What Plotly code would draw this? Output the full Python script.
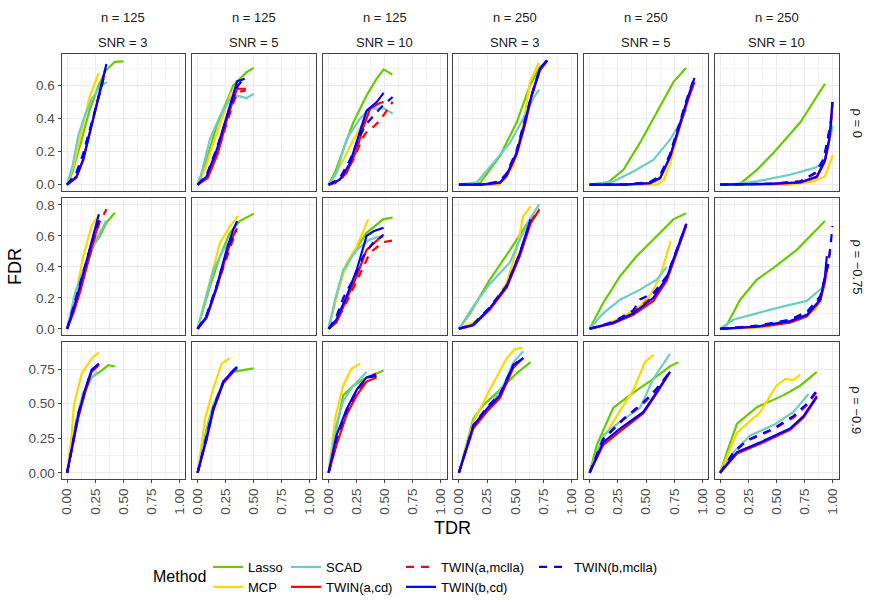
import plotly.graph_objects as go

# ---- data --------------------------------------------------------------
# each list holds 18 curves, panel order: row (rho) by row, n/SNR across
methods = ["Lasso", "MCP", "SCAD", "TWIN(a,cd)", "TWIN(a,mclla)", "TWIN(b,cd)", "TWIN(b,mclla)"]
n_labels = ["n = 125", "n = 125", "n = 125", "n = 250", "n = 250", "n = 250"]
snr_labels = ["SNR = 3", "SNR = 5", "SNR = 10", "SNR = 3", "SNR = 5", "SNR = 10"]
rho_labels = ["ρ = 0", "ρ = −0.75", "ρ = −0.9"]
x_ticks = [0, 0.25, 0.5, 0.75, 1.0]
y_ticks = [[0, 0.2, 0.4, 0.6], [0, 0.2, 0.4, 0.6, 0.8], [0, 0.25, 0.5, 0.75]]

lasso_tdr = [
    [0, 0.05, 0.12, 0.2, 0.28, 0.345, 0.425, 0.5],
    [0, 0.08, 0.17, 0.317, 0.436, 0.5],
    [0, 0.06, 0.13, 0.22, 0.338, 0.427, 0.49, 0.568],
    [0, 0.1, 0.187, 0.365, 0.513, 0.631, 0.72, 0.778],
    [0, 0.15, 0.3, 0.447, 0.595, 0.743, 0.855],
    [0, 0.1, 0.178, 0.326, 0.474, 0.71, 0.93],
    [0, 0.085, 0.174, 0.232, 0.292, 0.351, 0.425],
    [0, 0.11, 0.2, 0.287, 0.376, 0.5],
    [0, 0.07, 0.13, 0.22, 0.338, 0.485, 0.57],
    [0, 0.098, 0.275, 0.455, 0.631, 0.64],
    [0, 0.12, 0.27, 0.418, 0.565, 0.743, 0.855],
    [0, 0.06, 0.178, 0.326, 0.474, 0.68, 0.93],
    [0, 0.04, 0.085, 0.144, 0.218, 0.292, 0.366, 0.425],
    [0, 0.08, 0.14, 0.23, 0.317, 0.5],
    [0, 0.07, 0.13, 0.22, 0.338, 0.49],
    [0, 0.128, 0.216, 0.365, 0.513, 0.637],
    [0, 0.063, 0.21, 0.388, 0.565, 0.713, 0.787],
    [0, 0.06, 0.15, 0.326, 0.56, 0.71, 0.858],
]
lasso_fdr = [
    [0, 0.08, 0.25, 0.45, 0.6, 0.69, 0.743, 0.745],
    [0, 0.15, 0.356, 0.6, 0.68, 0.706],
    [0, 0.08, 0.21, 0.376, 0.539, 0.64, 0.697, 0.665],
    [0, 0, 0.01, 0.173, 0.376, 0.6, 0.712, 0.742],
    [0, 0.006, 0.09, 0.254, 0.437, 0.62, 0.706],
    [0, 0, 0.006, 0.09, 0.193, 0.376, 0.61],
    [0, 0.188, 0.404, 0.534, 0.6, 0.686, 0.75],
    [0, 0.274, 0.47, 0.62, 0.696, 0.744],
    [0, 0.21, 0.36, 0.49, 0.62, 0.707, 0.718],
    [0, 0.1, 0.318, 0.51, 0.707, 0.72],
    [0, 0.167, 0.34, 0.47, 0.577, 0.707, 0.746],
    [0, 0.026, 0.188, 0.318, 0.394, 0.51, 0.696],
    [0, 0.2, 0.39, 0.58, 0.69, 0.73, 0.778, 0.77],
    [0, 0.32, 0.49, 0.66, 0.73, 0.755],
    [0, 0.32, 0.56, 0.63, 0.69, 0.74],
    [0, 0.39, 0.49, 0.6, 0.72, 0.8],
    [0, 0.2, 0.47, 0.58, 0.68, 0.77, 0.8],
    [0, 0.15, 0.355, 0.475, 0.56, 0.63, 0.73],
]

mcp_tdr = [
    [0, 0.06, 0.13, 0.2, 0.24, 0.28],
    [0, 0.07, 0.14, 0.2, 0.26, 0.3],
    [0, 0.06, 0.13, 0.22, 0.31, 0.36],
    [0, 0.2, 0.36, 0.483, 0.57, 0.631, 0.71],
    [0, 0.3, 0.6, 0.66, 0.72, 0.8, 0.86, 0.9],
    [0, 0.3, 0.62, 0.83, 0.93, 1.0],
    [0, 0.085, 0.144, 0.218, 0.277],
    [0, 0.11, 0.2, 0.287, 0.36],
    [0, 0.07, 0.16, 0.25, 0.353],
    [0, 0.128, 0.275, 0.424, 0.513, 0.572, 0.637],
    [0, 0.15, 0.3, 0.45, 0.55, 0.63, 0.72],
    [0, 0.4, 0.7, 0.85, 0.9],
    [0, 0.04, 0.061, 0.13, 0.218, 0.283],
    [0, 0.066, 0.14, 0.214, 0.287],
    [0, 0.057, 0.13, 0.205, 0.28],
    [0, 0.128, 0.275, 0.424, 0.498, 0.566],
    [0, 0.12, 0.24, 0.388, 0.49, 0.57],
    [0, 0.15, 0.356, 0.5, 0.58, 0.65, 0.71],
]
mcp_fdr = [
    [0, 0.12, 0.33, 0.53, 0.6, 0.675],
    [0, 0.1, 0.25, 0.37, 0.48, 0.56],
    [0, 0.06, 0.15, 0.27, 0.376, 0.43],
    [0, 0, 0, 0.11, 0.36, 0.62, 0.738],
    [0, 0, 0, 0.03, 0.14, 0.35, 0.5, 0.58],
    [0, 0, 0, 0.02, 0.05, 0.18],
    [0, 0.25, 0.47, 0.664, 0.73],
    [0, 0.3, 0.557, 0.66, 0.73],
    [0, 0.21, 0.426, 0.53, 0.707],
    [0, 0.04, 0.12, 0.297, 0.51, 0.729, 0.79],
    [0, 0.03, 0.08, 0.15, 0.23, 0.35, 0.567],
    [0, 0.01, 0.06, 0.13, 0.2],
    [0, 0.27, 0.488, 0.718, 0.827, 0.87],
    [0, 0.39, 0.61, 0.79, 0.83],
    [0, 0.39, 0.63, 0.755, 0.79],
    [0, 0.367, 0.6, 0.827, 0.895, 0.905],
    [0, 0.25, 0.41, 0.6, 0.8, 0.855],
    [0, 0.29, 0.44, 0.63, 0.68, 0.67, 0.71],
]

scad_tdr = [
    [0, 0.05, 0.1, 0.16, 0.22, 0.3, 0.357],
    [0, 0.02, 0.11, 0.2, 0.287, 0.347, 0.436, 0.5],
    [0, 0.07, 0.16, 0.28, 0.37, 0.49, 0.57],
    [0, 0.158, 0.305, 0.455, 0.57, 0.66, 0.714],
    [0, 0.21, 0.388, 0.565, 0.716, 0.805, 0.86],
    [0, 0.1, 0.326, 0.62, 0.83, 0.92, 0.965, 1.0],
    [0, 0.07, 0.144, 0.232, 0.292, 0.35],
    [0, 0.08, 0.14, 0.23, 0.317, 0.35],
    [0, 0.057, 0.13, 0.25, 0.367, 0.48],
    [0, 0.128, 0.275, 0.455, 0.542, 0.631, 0.714],
    [0, 0.12, 0.27, 0.447, 0.595, 0.684],
    [0, 0.12, 0.326, 0.56, 0.77, 0.92],
    [0, 0.04, 0.09, 0.15, 0.22, 0.27],
    [0, 0.08, 0.14, 0.23, 0.3, 0.352],
    [0, 0.07, 0.13, 0.22, 0.338],
    [0, 0.128, 0.275, 0.395, 0.484, 0.572],
    [0, 0.12, 0.27, 0.447, 0.565, 0.713],
    [0, 0.12, 0.267, 0.474, 0.65, 0.784],
]
scad_fdr = [
    [0, 0.12, 0.3, 0.42, 0.52, 0.6, 0.62],
    [0, 0.03, 0.275, 0.417, 0.518, 0.539, 0.523, 0.55],
    [0, 0.07, 0.275, 0.4, 0.46, 0.462, 0.43],
    [0, 0.014, 0.13, 0.254, 0.397, 0.52, 0.575],
    [0, 0.02, 0.08, 0.15, 0.275, 0.376, 0.457],
    [0, 0.003, 0.02, 0.06, 0.1, 0.13, 0.254, 0.356],
    [0, 0.23, 0.38, 0.534, 0.62, 0.7],
    [0, 0.21, 0.38, 0.51, 0.6, 0.645],
    [0, 0.188, 0.38, 0.51, 0.577, 0.6],
    [0, 0.145, 0.29, 0.43, 0.577, 0.707, 0.805],
    [0, 0.1, 0.188, 0.253, 0.318, 0.4],
    [0, 0.06, 0.1, 0.145, 0.18, 0.275],
    [0, 0.19, 0.4, 0.58, 0.69, 0.73],
    [0, 0.3, 0.48, 0.66, 0.73, 0.76],
    [0, 0.35, 0.52, 0.63, 0.73],
    [0, 0.34, 0.49, 0.63, 0.8, 0.88],
    [0, 0.27, 0.37, 0.47, 0.68, 0.86],
    [0, 0.15, 0.27, 0.345, 0.44, 0.57],
]

twin_a_cd_tdr = [
    [0, 0.08, 0.14, 0.2, 0.26, 0.3, 0.33],
    [0, 0.09, 0.18, 0.26, 0.32, 0.352, 0.43],
    [0, 0.06, 0.16, 0.25, 0.31, 0.37, 0.456, 0.49],
    [0, 0.2, 0.365, 0.424, 0.513, 0.587, 0.645, 0.72, 0.785],
    [0, 0.3, 0.536, 0.625, 0.714, 0.803, 0.877, 0.93],
    [0, 0.474, 0.71, 0.858, 0.93, 0.966, 0.98, 0.995],
    [0, 0.06, 0.12, 0.18, 0.24, 0.29],
    [0, 0.08, 0.17, 0.258, 0.317, 0.35],
    [0, 0.07, 0.16, 0.25, 0.338, 0.4, 0.49],
    [0, 0.128, 0.275, 0.424, 0.542, 0.637, 0.714],
    [0, 0.21, 0.388, 0.565, 0.684, 0.773, 0.855],
    [0, 0.326, 0.62, 0.77, 0.888, 0.93, 0.95],
    [0, 0.04, 0.1, 0.16, 0.218, 0.283],
    [0, 0.08, 0.14, 0.23, 0.317, 0.352],
    [0, 0.07, 0.16, 0.25, 0.338, 0.427],
    [0, 0.128, 0.246, 0.365, 0.484, 0.572],
    [0, 0.12, 0.27, 0.477, 0.595, 0.713],
    [0, 0.15, 0.356, 0.62, 0.74, 0.858],
]
twin_a_cd_fdr = [
    [0, 0.04, 0.15, 0.31, 0.47, 0.58, 0.66],
    [0, 0.04, 0.19, 0.39, 0.52, 0.58, 0.58],
    [0, 0.01, 0.07, 0.21, 0.35, 0.46, 0.494, 0.5],
    [0, 0, 0.01, 0.05, 0.18, 0.36, 0.53, 0.69, 0.75],
    [0, 0, 0.01, 0.04, 0.165, 0.36, 0.52, 0.62],
    [0, 0.005, 0.013, 0.045, 0.14, 0.26, 0.34, 0.48],
    [0, 0.11, 0.25, 0.42, 0.58, 0.7],
    [0, 0.07, 0.26, 0.48, 0.6, 0.65],
    [0, 0.04, 0.19, 0.34, 0.51, 0.55, 0.61],
    [0, 0.022, 0.125, 0.265, 0.47, 0.68, 0.77],
    [0, 0.035, 0.09, 0.18, 0.31, 0.49, 0.66],
    [0, 0.012, 0.04, 0.08, 0.18, 0.3, 0.4],
    [0, 0.16, 0.4, 0.58, 0.73, 0.78],
    [0, 0.24, 0.45, 0.65, 0.73, 0.76],
    [0, 0.2, 0.42, 0.56, 0.66, 0.69],
    [0, 0.32, 0.44, 0.54, 0.76, 0.83],
    [0, 0.2, 0.3, 0.43, 0.575, 0.73],
    [0, 0.14, 0.21, 0.31, 0.4, 0.545],
]

twin_a_mclla_tdr = [
    [0, 0.08, 0.14, 0.2, 0.26, 0.3, 0.34],
    [0, 0.09, 0.18, 0.26, 0.32, 0.36, 0.43],
    [0, 0.12, 0.22, 0.3, 0.35, 0.4, 0.46, 0.52, 0.57],
    [0, 0.2, 0.36, 0.42, 0.51, 0.585, 0.645, 0.72, 0.785],
    [0, 0.3, 0.53, 0.62, 0.71, 0.8, 0.875, 0.93],
    [0, 0.474, 0.71, 0.85, 0.92, 0.96, 0.98, 0.995],
    [0, 0.06, 0.12, 0.18, 0.24, 0.29, 0.351],
    [0, 0.08, 0.17, 0.258, 0.317, 0.35],
    [0, 0.08, 0.18, 0.28, 0.367, 0.485, 0.57],
    [0, 0.128, 0.275, 0.424, 0.542, 0.637, 0.714],
    [0, 0.21, 0.388, 0.565, 0.684, 0.773, 0.855],
    [0, 0.326, 0.62, 0.77, 0.888, 0.93, 0.96, 0.98],
    [0, 0.04, 0.1, 0.16, 0.218, 0.283],
    [0, 0.08, 0.14, 0.23, 0.317, 0.352],
    [0, 0.07, 0.16, 0.25, 0.338, 0.427],
    [0, 0.128, 0.246, 0.365, 0.484, 0.572],
    [0, 0.12, 0.3, 0.477, 0.595, 0.713],
    [0, 0.12, 0.237, 0.474, 0.65, 0.77, 0.88],
]
twin_a_mclla_fdr = [
    [0, 0.06, 0.17, 0.32, 0.48, 0.59, 0.68],
    [0, 0.05, 0.2, 0.38, 0.5, 0.56, 0.57],
    [0, 0.04, 0.15, 0.28, 0.33, 0.35, 0.39, 0.45, 0.5],
    [0, 0, 0.015, 0.055, 0.185, 0.37, 0.535, 0.695, 0.75],
    [0, 0, 0.012, 0.045, 0.17, 0.37, 0.53, 0.63],
    [0, 0.006, 0.02, 0.07, 0.15, 0.28, 0.36, 0.49],
    [0, 0.13, 0.27, 0.43, 0.58, 0.69, 0.772],
    [0, 0.08, 0.27, 0.46, 0.58, 0.62],
    [0, 0.06, 0.2, 0.36, 0.49, 0.56, 0.57],
    [0, 0.025, 0.13, 0.27, 0.48, 0.69, 0.775],
    [0, 0.04, 0.11, 0.21, 0.33, 0.5, 0.67],
    [0, 0.015, 0.05, 0.1, 0.2, 0.32, 0.42, 0.54],
    [0, 0.17, 0.41, 0.59, 0.735, 0.785],
    [0, 0.25, 0.46, 0.655, 0.735, 0.765],
    [0, 0.22, 0.43, 0.58, 0.68, 0.72],
    [0, 0.33, 0.45, 0.55, 0.77, 0.835],
    [0, 0.24, 0.385, 0.5, 0.6, 0.73],
    [0, 0.145, 0.23, 0.315, 0.4, 0.49, 0.61],
]

twin_b_cd_tdr = [
    [0, 0.085, 0.144, 0.203, 0.262, 0.307, 0.35],
    [0, 0.08, 0.17, 0.258, 0.317, 0.352, 0.42],
    [0, 0.1, 0.19, 0.28, 0.338, 0.427, 0.49],
    [0, 0.2, 0.365, 0.424, 0.513, 0.587, 0.645, 0.72, 0.785],
    [0, 0.3, 0.536, 0.625, 0.714, 0.803, 0.877, 0.93],
    [0, 0.474, 0.71, 0.858, 0.93, 0.966, 0.98, 0.996],
    [0, 0.055, 0.114, 0.174, 0.232, 0.283],
    [0, 0.08, 0.17, 0.258, 0.317, 0.352],
    [0, 0.07, 0.16, 0.25, 0.338, 0.4, 0.49],
    [0, 0.128, 0.275, 0.424, 0.542, 0.637],
    [0, 0.21, 0.388, 0.565, 0.684, 0.773, 0.855],
    [0, 0.326, 0.62, 0.77, 0.888, 0.93, 0.947],
    [0, 0.04, 0.1, 0.16, 0.218, 0.283],
    [0, 0.08, 0.14, 0.23, 0.317, 0.352],
    [0, 0.07, 0.16, 0.25, 0.338, 0.427],
    [0, 0.128, 0.246, 0.365, 0.484, 0.572],
    [0, 0.12, 0.27, 0.477, 0.595, 0.713],
    [0, 0.15, 0.356, 0.62, 0.74, 0.858],
]
twin_b_cd_fdr = [
    [0, 0.05, 0.15, 0.315, 0.478, 0.62, 0.73],
    [0, 0.05, 0.21, 0.417, 0.54, 0.624, 0.64],
    [0, 0.03, 0.13, 0.315, 0.447, 0.498, 0.555],
    [0, 0, 0.014, 0.06, 0.193, 0.376, 0.539, 0.7, 0.752],
    [0, 0, 0.01, 0.04, 0.173, 0.376, 0.539, 0.645],
    [0, 0.006, 0.015, 0.05, 0.15, 0.27, 0.356, 0.5],
    [0, 0.123, 0.274, 0.448, 0.6, 0.74],
    [0, 0.08, 0.274, 0.51, 0.64, 0.696],
    [0, 0.06, 0.21, 0.38, 0.6, 0.63, 0.653],
    [0, 0.026, 0.134, 0.275, 0.49, 0.707],
    [0, 0.04, 0.1, 0.2, 0.33, 0.51, 0.675],
    [0, 0.015, 0.05, 0.09, 0.19, 0.34, 0.47],
    [0, 0.17, 0.42, 0.6, 0.745, 0.79],
    [0, 0.25, 0.465, 0.66, 0.74, 0.766],
    [0, 0.27, 0.46, 0.6, 0.69, 0.7],
    [0, 0.34, 0.46, 0.56, 0.78, 0.83],
    [0, 0.22, 0.32, 0.44, 0.585, 0.73],
    [0, 0.15, 0.22, 0.32, 0.41, 0.555],
]

twin_b_mclla_tdr = [
    [0, 0.08, 0.14, 0.2, 0.26, 0.31, 0.34],
    [0, 0.08, 0.17, 0.26, 0.32, 0.36, 0.42],
    [0, 0.1, 0.19, 0.28, 0.34, 0.4, 0.47, 0.57],
    [0, 0.2, 0.36, 0.42, 0.51, 0.585, 0.645, 0.72, 0.78],
    [0, 0.3, 0.53, 0.62, 0.71, 0.8, 0.875, 0.93],
    [0, 0.474, 0.71, 0.85, 0.92, 0.96, 0.98, 0.996],
    [0, 0.055, 0.114, 0.174, 0.232, 0.29],
    [0, 0.08, 0.17, 0.258, 0.317, 0.35],
    [0, 0.07, 0.13, 0.22, 0.31, 0.4, 0.485],
    [0, 0.128, 0.275, 0.424, 0.542, 0.637],
    [0, 0.21, 0.388, 0.447, 0.565, 0.684, 0.773, 0.86],
    [0, 0.326, 0.62, 0.77, 0.888, 0.93, 0.96, 0.98, 0.996],
    [0, 0.04, 0.1, 0.16, 0.218, 0.283],
    [0, 0.08, 0.14, 0.23, 0.317, 0.352],
    [0, 0.07, 0.16, 0.25, 0.338, 0.427],
    [0, 0.128, 0.246, 0.365, 0.484, 0.572],
    [0, 0.12, 0.3, 0.477, 0.595, 0.713],
    [0, 0.12, 0.237, 0.474, 0.65, 0.77, 0.88],
]
twin_b_mclla_fdr = [
    [0, 0.07, 0.18, 0.33, 0.48, 0.6, 0.7],
    [0, 0.06, 0.22, 0.41, 0.53, 0.6, 0.645],
    [0, 0.04, 0.15, 0.3, 0.37, 0.417, 0.47, 0.53],
    [0, 0, 0.02, 0.065, 0.2, 0.38, 0.54, 0.7, 0.75],
    [0, 0, 0.015, 0.05, 0.18, 0.38, 0.545, 0.65],
    [0, 0.007, 0.02, 0.075, 0.16, 0.29, 0.37, 0.5],
    [0, 0.14, 0.29, 0.45, 0.59, 0.72],
    [0, 0.09, 0.28, 0.49, 0.6, 0.63],
    [0, 0.08, 0.2, 0.32, 0.47, 0.56, 0.6],
    [0, 0.03, 0.14, 0.28, 0.49, 0.7],
    [0, 0.045, 0.12, 0.19, 0.23, 0.34, 0.51, 0.68],
    [0, 0.02, 0.06, 0.11, 0.21, 0.33, 0.42, 0.54, 0.664],
    [0, 0.18, 0.43, 0.6, 0.74, 0.79],
    [0, 0.26, 0.47, 0.66, 0.74, 0.77],
    [0, 0.25, 0.45, 0.6, 0.69, 0.71],
    [0, 0.345, 0.47, 0.57, 0.78, 0.835],
    [0, 0.245, 0.39, 0.51, 0.61, 0.73],
    [0, 0.15, 0.235, 0.32, 0.41, 0.5, 0.62],
]

tdr_data = [lasso_tdr, mcp_tdr, scad_tdr, twin_a_cd_tdr, twin_a_mclla_tdr, twin_b_cd_tdr, twin_b_mclla_tdr]
fdr_data = [lasso_fdr, mcp_fdr, scad_fdr, twin_a_cd_fdr, twin_a_mclla_fdr, twin_b_cd_fdr, twin_b_mclla_fdr]

# ---- styling ------------------------------------------------------------
W, H = 872, 610
FONT = "Liberation Sans, Arial, sans-serif"
colors = ["#66CC00", "#FFD700", "#6CCDC8", "#FF0000", "#FF0000", "#0000FF", "#0000FF"]
dashes = ["solid", "solid", "solid", "solid", "8px,7px", "solid", "8px,7px"]
# legend columns like the ggplot guide (filled by column)
legend_of = ["legend", "legend", "legend2", "legend2", "legend3", "legend3", "legend4"]

col_px = [(61.5, 185), (192, 315.5), (323, 446.5), (453.3, 577), (584, 708), (714.5, 838.5)]
row_px = [(54, 191), (198, 335), (341.5, 479)]
y_ranges = [[-0.038, 0.79], [-0.04, 0.845], [-0.045, 0.95]]
y_fmt = [".1f", ".1f", ".2f"]
y_minor = [0.1, 0.1, 0.125]
BORDER = "#444444"

fig = go.Figure()
layout = dict()

for p in range(18):
    r, c = divmod(p, 6)
    k = p + 1
    xname = "xaxis" if k == 1 else f"xaxis{k}"
    yname = "yaxis" if k == 1 else f"yaxis{k}"
    xref = "x" if k == 1 else f"x{k}"
    yref = "y" if k == 1 else f"y{k}"
    bottom = r == 2
    left = c == 0
    layout[xname] = dict(
        domain=[col_px[c][0] / W, col_px[c][1] / W],
        anchor=yref, range=[-0.05, 1.05],
        tickvals=x_ticks, tickformat=".2f",
        showticklabels=bottom, ticks="outside" if bottom else "",
        ticklen=3, tickcolor=BORDER, tickangle=-90,
        tickfont=dict(size=13.5, color="#4D4D4D"),
        showgrid=True, gridcolor="#EBEBEB", gridwidth=1,
        minor=dict(dtick=0.125, tick0=0, showgrid=True, gridcolor="#F3F3F3", gridwidth=0.6, ticks=""),
        showline=True, mirror=True, linecolor=BORDER, linewidth=1,
        zeroline=False, fixedrange=True, automargin=False,
    )
    layout[yname] = dict(
        domain=[1 - row_px[r][1] / H, 1 - row_px[r][0] / H],
        anchor=xref, range=y_ranges[r],
        tickvals=y_ticks[r], tickformat=y_fmt[r],
        showticklabels=left, ticks="outside" if left else "",
        ticklen=3, tickcolor=BORDER,
        tickfont=dict(size=13.5, color="#4D4D4D"),
        showgrid=True, gridcolor="#EBEBEB", gridwidth=1,
        minor=dict(dtick=y_minor[r], tick0=0, showgrid=True, gridcolor="#F3F3F3", gridwidth=0.6, ticks=""),
        showline=True, mirror=True, linecolor=BORDER, linewidth=1,
        zeroline=False, fixedrange=True, automargin=False,
    )
    for m, name in enumerate(methods):
        fig.add_trace(go.Scatter(
            x=tdr_data[m][p], y=fdr_data[m][p],
            mode="lines", name=name,
            line=dict(color=colors[m], width=2.2, dash=dashes[m]),
            xaxis=xref, yaxis=yref,
            showlegend=(p == 0), legend=legend_of[m],
            hoverinfo="skip",
        ))


def label(x_px, y_px, text, size, color="#1A1A1A", angle=0):
    return dict(x=x_px / W, y=1 - y_px / H, text=text, showarrow=False, textangle=angle,
                xref="paper", yref="paper", xanchor="center", yanchor="middle",
                font=dict(size=size, color=color))


annotations = []
for c in range(6):
    xc = (col_px[c][0] + col_px[c][1]) / 2
    annotations.append(label(xc, 18, n_labels[c], 13))
    annotations.append(label(xc, 42, snr_labels[c], 13))
for r in range(3):
    yc = (row_px[r][0] + row_px[r][1]) / 2
    annotations.append(label(857, yc, rho_labels[r], 13, angle=90))
annotations.append(label(15, 267, "FDR", 18, "black", -90))
annotations.append(label(452, 528, "TDR", 18, "black"))
annotations.append(label(179, 576, "Method", 16, "black"))

leg_common = dict(orientation="v", xanchor="left", yanchor="top", y=1 - 552 / H,
                  bgcolor="rgba(0,0,0,0)", font=dict(size=13, color="black"),
                  tracegroupgap=0, itemclick=False, itemdoubleclick=False)
layout["legend"] = dict(x=208 / W, **leg_common)
layout["legend2"] = dict(x=286 / W, **leg_common)
layout["legend3"] = dict(x=401 / W, **leg_common)
layout["legend4"] = dict(x=534 / W, **leg_common)

fig.update_layout(
    **layout,
    annotations=annotations,
    width=W, height=H,
    margin=dict(l=0, r=0, t=0, b=0),
    paper_bgcolor="white", plot_bgcolor="white",
    font=dict(family=FONT),
)

# drop the browser's default 8px body margin so the figure sits at (0, 0)
fig.write_html("out.html", config={"displayModeBar": False},
               post_script="document.body.style.margin='0';")
